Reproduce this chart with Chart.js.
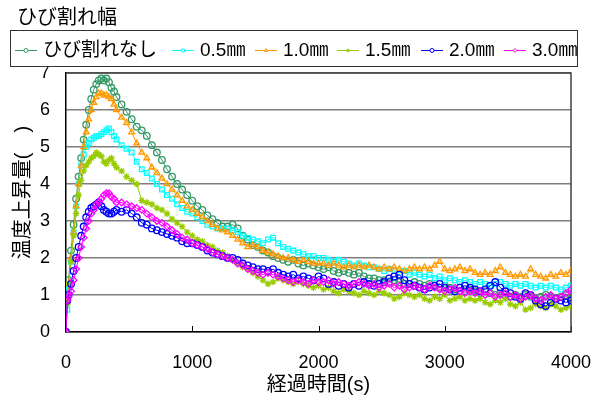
<!DOCTYPE html>
<html><head><meta charset="utf-8">
<script src="https://cdn.jsdelivr.net/npm/chart.js@4/dist/chart.umd.min.js"></script>
<style>html,body{margin:0;padding:0;background:#fff;overflow:hidden}#wrap{width:602px;height:403px;position:relative}</style>
</head><body><div id="wrap"><canvas id="c" width="602" height="403"></canvas></div>
<script>
const legendTitle = 'ひび割れ幅';
const seriesNames = ['ひび割れなし', '0.5㎜', '1.0㎜', '1.5㎜', '2.0㎜', '3.0㎜'];
const xTitle = '経過時間(s)';
const yTitle = '温度上昇量(　)';
const xTicks = [0, 1000, 2000, 3000, 4000];
const yTicks = [0, 1, 2, 3, 4, 5, 6, 7];

const times = [0, 10,
  20, 40, 60, 80, 100, 120, 140, 160, 180, 200,
  220, 240, 260, 280, 300, 320, 340, 360, 380, 400,
  440, 480, 520, 560, 600, 640, 680, 720, 760, 800,
  840, 880, 920, 960, 1000, 1040, 1080, 1120, 1160, 1200,
  1240, 1280, 1320, 1360, 1400, 1440, 1480, 1520, 1560, 1600,
  1640, 1680, 1720, 1760, 1800, 1840, 1880, 1920, 1960, 2000,
  2040, 2080, 2120, 2160, 2200, 2240, 2280, 2320, 2360, 2400,
  2440, 2480, 2520, 2560, 2600, 2640, 2680, 2720, 2760, 2800,
  2840, 2880, 2920, 2960, 3000, 3040, 3080, 3120, 3160, 3200,
  3240, 3280, 3320, 3360, 3400, 3440, 3480, 3520, 3560, 3600,
  3640, 3680, 3720, 3760, 3800, 3840, 3880, 3920, 3960, 4000];

const sNone = [0, 0.9,
  1.4, 2.2, 2.9, 3.6, 4.2, 4.7, 5.2, 5.6, 6.0, 6.3,
  6.55, 6.7, 6.8, 6.85, 6.8, 6.85, 6.75, 6.6, 6.5, 6.35,
  6.15, 5.95, 5.75, 5.55, 5.45, 5.3, 5.05, 4.85, 4.65, 4.4,
  4.2, 4.0, 3.85, 3.7, 3.55, 3.4, 3.3, 3.15, 3.05, 2.95,
  2.85, 2.85, 2.9, 2.8, 2.6, 2.5, 2.35, 2.3, 2.2, 2.15,
  2.05, 2.0, 1.95, 1.9, 1.95, 1.85, 1.8, 1.85, 1.8, 1.75,
  1.7, 1.75, 1.65, 1.6, 1.65, 1.6, 1.55, 1.6, 1.5, 1.45,
  1.45, 1.4, 1.4, 1.35, 1.4, 1.35, 1.3, 1.3, 1.35, 1.3,
  1.25, 1.3, 1.25, 1.2, 1.25, 1.2, 1.15, 1.2, 1.1, 1.15,
  1.1, 1.05, 1.1, 1.05, 1.0, 1.05, 1.0, 0.95, 1.0, 0.95,
  1.0, 0.95, 0.9, 0.95, 1.0, 0.95, 0.9, 0.95, 1.0, 0.95];

const s05 = [0, 0.6,
  1.2, 1.9, 2.7, 3.4, 4.0, 4.5, 4.8, 5.0, 5.1, 5.2,
  5.25, 5.3, 5.3, 5.35, 5.4, 5.45, 5.5, 5.4, 5.3, 5.2,
  5.05, 4.95, 4.85, 4.6, 4.4, 4.3, 4.15, 4.0, 3.85, 3.7,
  3.6, 3.45, 3.35, 3.25, 3.2, 3.1, 3.0, 2.9, 2.85, 2.8,
  2.8, 2.8, 2.75, 2.7, 2.6, 2.55, 2.5, 2.45, 2.4, 2.5,
  2.55, 2.4, 2.3, 2.25, 2.2, 2.15, 2.1, 2.05, 2.05, 2.0,
  2.0, 1.95, 1.9, 1.95, 1.9, 1.85, 1.8, 1.85, 1.8, 1.75,
  1.75, 1.7, 1.65, 1.7, 1.65, 1.6, 1.65, 1.55, 1.6, 1.55,
  1.5, 1.55, 1.45, 1.5, 1.4, 1.45, 1.4, 1.35, 1.4, 1.35,
  1.3, 1.35, 1.3, 1.25, 1.3, 1.35, 1.3, 1.25, 1.3, 1.25,
  1.3, 1.25, 1.2, 1.25, 1.2, 1.25, 1.2, 1.15, 1.2, 1.25];

const s10 = [0, 0.85,
  1.3, 2.0, 2.7, 3.4, 4.0, 4.5, 5.0, 5.4, 5.75, 6.0,
  6.2, 6.35, 6.45, 6.45, 6.4, 6.4, 6.35, 6.3, 6.15, 6.0,
  5.8, 5.65, 5.4, 5.1, 4.85, 4.7, 4.45, 4.3, 4.15, 4.0,
  3.85, 3.7, 3.55, 3.4, 3.3, 3.2, 3.1, 3.0, 2.9, 2.8,
  2.75, 2.7, 2.6, 2.5, 2.4, 2.3, 2.35, 2.3, 2.2, 2.15,
  2.1, 2.05, 2.0, 2.0, 1.95, 1.9, 1.95, 1.9, 1.85, 1.85,
  1.85, 1.8, 1.85, 1.8, 1.75, 1.8, 1.75, 1.8, 1.75, 1.8,
  1.75, 1.7, 1.75, 1.7, 1.75, 1.7, 1.65, 1.7, 1.75, 1.7,
  1.75, 1.7, 1.8, 1.9, 1.7, 1.65, 1.7, 1.75, 1.65, 1.7,
  1.6, 1.55, 1.6, 1.55, 1.65, 1.75, 1.6, 1.55, 1.5, 1.55,
  1.5, 1.7, 1.55, 1.5, 1.45, 1.55, 1.5, 1.6, 1.55, 1.65];

const s15 = [0, 0.75,
  1.3, 1.9, 2.6, 3.2, 3.7, 4.1, 4.35, 4.5, 4.6, 4.7,
  4.75, 4.85, 4.8, 4.75, 4.6, 4.55, 4.65, 4.7, 4.55, 4.45,
  4.35, 4.2, 4.1, 4.0, 3.55, 3.5, 3.45, 3.35, 3.3, 3.2,
  3.05, 2.95, 2.85, 2.7, 2.6, 2.5, 2.45, 2.35, 2.3, 2.2,
  2.15, 2.05, 1.95, 1.85, 1.75, 1.7, 1.6, 1.5, 1.4, 1.3,
  1.35, 1.45, 1.4, 1.35, 1.3, 1.35, 1.3, 1.25, 1.2, 1.25,
  1.15, 1.2, 1.1, 1.05, 1.15, 1.1, 1.05, 1.0, 1.1, 1.05,
  1.0, 1.1, 1.05, 1.0, 0.9, 0.95, 1.05, 1.0, 0.95, 1.0,
  0.9, 0.85, 0.95, 0.9, 1.0, 0.85, 0.9, 0.95, 0.85, 0.9,
  0.85, 0.9, 0.8, 0.75, 0.85, 0.8, 0.9, 0.75, 0.7, 0.8,
  0.6, 0.65, 0.75, 0.7, 0.65, 0.75, 0.7, 0.6, 0.65, 0.7];

const s20 = [0, 0.85,
  1.0, 1.3, 1.65, 2.0, 2.3, 2.6, 2.85, 3.1, 3.25, 3.35,
  3.4, 3.45, 3.5, 3.4, 3.3, 3.25, 3.2, 3.2, 3.25, 3.3,
  3.25, 3.3, 3.2, 3.1, 2.95, 2.9, 2.8, 2.75, 2.7, 2.65,
  2.6, 2.55, 2.45, 2.4, 2.4, 2.35, 2.3, 2.2, 2.15, 2.1,
  2.05, 2.0, 2.0, 1.95, 1.85, 1.8, 1.75, 1.7, 1.7, 1.65,
  1.7, 1.6, 1.55, 1.5, 1.55, 1.45, 1.5, 1.45, 1.4, 1.5,
  1.45, 1.3, 1.35, 1.25, 1.3, 1.2, 1.3, 1.25, 1.35, 1.3,
  1.25, 1.3, 1.35, 1.45, 1.5, 1.55, 1.4, 1.3, 1.25, 1.2,
  1.15, 1.2, 1.25, 1.3, 1.2, 1.15, 1.1, 1.2, 1.25, 1.2,
  1.15, 1.1, 1.15, 1.25, 1.35, 1.2, 1.1, 1.05, 0.95, 0.9,
  1.05, 1.0, 0.85, 0.75, 0.7, 0.8, 0.9, 0.85, 0.8, 0.85];

const s30 = [0, 0.85,
  0.95, 1.1, 1.4, 1.7, 2.0, 2.3, 2.55, 2.8, 3.0, 3.2,
  3.3, 3.45, 3.5, 3.6, 3.7, 3.75, 3.75, 3.65, 3.6, 3.5,
  3.5, 3.45, 3.4, 3.35, 3.3, 3.2, 3.1, 3.0, 2.95, 2.85,
  2.75, 2.65, 2.55, 2.5, 2.4, 2.35, 2.3, 2.25, 2.15, 2.1,
  2.05, 2.0, 1.95, 1.85, 1.8, 1.7, 1.65, 1.6, 1.55, 1.6,
  1.55, 1.5, 1.45, 1.4, 1.35, 1.4, 1.35, 1.3, 1.4, 1.35,
  1.35, 1.4, 1.3, 1.35, 1.3, 1.25, 1.3, 1.35, 1.3, 1.25,
  1.3, 1.2, 1.25, 1.3, 1.2, 1.25, 1.15, 1.2, 1.25, 1.2,
  1.15, 1.25, 1.2, 1.15, 1.1, 1.15, 1.2, 1.1, 1.05, 1.1,
  1.05, 1.1, 1.0, 1.05, 0.95, 1.0, 1.05, 0.95, 1.0, 0.9,
  0.95, 1.0, 0.9, 0.85, 0.95, 1.0, 0.9, 0.95, 1.05, 1.15];

const FONT = "'Liberation Sans', 'Noto Sans CJK JP', sans-serif";
const colors = ['#339966', '#00FFFF', '#FF9900', '#99CC00', '#0000FF', '#FF00FF'];
const pstyles = ['circle', 'rect', 'triangle', 'star', 'circle', 'rectRot'];
const allSeries = [sNone, s05, s10, s15, s20, s30];

const datasets = allSeries.map((s, i) => ({
  label: seriesNames[i],
  data: times.map((t, j) => ({x: t, y: s[j]})),
  borderColor: colors[i],
  backgroundColor: colors[i],
  pointBackgroundColor: 'rgba(255,255,255,0)',
  pointBorderColor: colors[i],
  pointStyle: pstyles[i],
  pointRadius: 3.3,
  pointBorderWidth: 1.3,
  borderWidth: 1,
  tension: 0,
  order: 5 - i
}));

const decor = {
  id: 'decor',
  beforeDatasetsDraw(chart) {
    const {ctx, chartArea: a, scales} = chart;
    ctx.save();
    ctx.strokeStyle = '#000';
    ctx.lineWidth = 1;
    xTicks.forEach(v => {
      const px = Math.round(scales.x.getPixelForValue(v)) + 0.5;
      ctx.beginPath(); ctx.moveTo(px, a.bottom); ctx.lineTo(px, a.bottom - 6); ctx.stroke();
    });
    ctx.strokeStyle = '#404040';
    ctx.lineWidth = 1.5;
    ctx.beginPath();
    ctx.moveTo(a.left, a.top); ctx.lineTo(a.right, a.top); ctx.lineTo(a.right, a.bottom);
    ctx.stroke();
    ctx.restore();
  },
  afterDraw(chart) {
    const {ctx} = chart;
    ctx.save();
    ctx.fillStyle = '#000';
    ctx.textBaseline = 'middle';
    ctx.textAlign = 'left';
    ctx.font = '20px ' + FONT;
    ctx.fillText(legendTitle, 17, 18);
    ctx.fillStyle = '#fff';
    ctx.fillRect(10.5, 30.5, 567, 36);
    ctx.strokeStyle = '#333';
    ctx.lineWidth = 1;
    ctx.strokeRect(10.5, 30.5, 567, 36);
    const lineStarts = [15, 172, 255, 337, 421, 504];
    seriesNames.forEach((name, i) => {
      const x0 = lineStarts[i], x1 = x0 + 22, y = 50;
      ctx.strokeStyle = colors[i];
      ctx.lineWidth = 1;
      ctx.beginPath(); ctx.moveTo(x0, y + 0.5); ctx.lineTo(x1, y + 0.5); ctx.stroke();
      ctx.fillStyle = '#fff';
      Chart.helpers.drawPoint(ctx, {pointStyle: pstyles[i], radius: 2, borderWidth: 1, rotation: 0}, (x0 + x1) / 2, y + 0.5);
      ctx.fillStyle = '#000';
      ctx.font = '19px ' + FONT;
      ctx.fillText(name, x1 + 6, 51);
    });
    ctx.restore();
  }
};

new Chart(document.getElementById('c'), {
  type: 'line',
  data: {datasets},
  options: {
    responsive: false,
    animation: false,
    events: [],
    layout: {padding: {top: 73, right: 31, left: 0, bottom: 0}},
    plugins: {legend: {display: false}, title: {display: false}, tooltip: {enabled: false}},
    scales: {
      x: {
        type: 'linear', min: 0, max: 4000,
        afterBuildTicks: s => { s.ticks = xTicks.map(v => ({value: v})); },
        grid: {display: true, drawOnChartArea: false, drawTicks: false},
        border: {display: true, color: '#000', width: 1.5},
        ticks: {font: {family: FONT, size: 18}, color: '#000', padding: 20, maxRotation: 0, autoSkip: false, callback: v => String(v)},
        title: {display: true, text: xTitle, font: {family: FONT, size: 20}, color: '#000', padding: {top: 0, bottom: 6}},
        afterFit: s => { s.height = 71; s.paddingLeft = 0; s.paddingRight = 0; }
      },
      y: {
        type: 'linear', min: 0, max: 7,
        afterBuildTicks: s => { s.ticks = yTicks.map(v => ({value: v})); },
        grid: {color: '#7f7f7f', lineWidth: 1.5, drawTicks: false},
        border: {display: true, color: '#000', width: 1.5},
        ticks: {font: {family: FONT, size: 18}, color: '#000', padding: 16, callback: v => String(v)},
        title: {display: true, text: '　' + yTitle, font: {family: FONT, size: 20}, color: '#000', padding: {top: 11, bottom: 0}},
        afterFit: s => { s.width = 66; s.paddingTop = 0; s.paddingBottom = 0; }
      }
    }
  },
  plugins: [decor]
});
</script>
</body></html>
